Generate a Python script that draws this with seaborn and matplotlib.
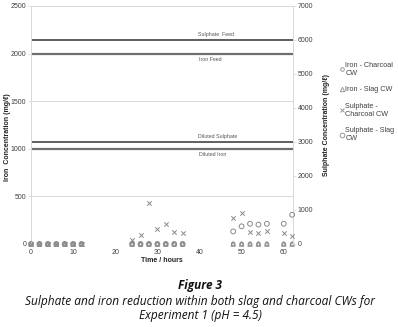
import matplotlib
matplotlib.use("Agg")
import pandas as pd
import matplotlib.pyplot as plt
import seaborn as sns

# sampling times (hours)
hours = [0, 2, 4, 6, 8, 10, 12,
         24, 26, 28, 30, 32, 34, 36,
         48, 50, 52, 54, 56, 60, 62]

# iron concentrations (mg/l), left axis
iron_charcoal = [0, 0, 0, 0, 0, 0, 0,
                 0, 0, 0, 0, 0, 0, 0,
                 0, 0, 0, 0, 0, 0, 0]
iron_slag = [0, 0, 0, 0, 0, 0, 0,
             0, 0, 0, 0, 0, 0, 0,
             0, 0, 0, 0, 0, 0, 0]

# sulphate concentrations (mg/l), right axis
sulphate_charcoal = [0, 0, 0, 0, 0, 0, 0,
                     120, 260, 1200, 440, 600, 340, 325,
                     755, 900, 365, 315, 380, 315, 245]
sulphate_slag = [0, 0, 0, 0, 0, 0, 0,
                 0, 0, 0, 0, 0, 0, 0,
                 370, 520, 595, 570, 595, 595, 860]

# reference levels
iron_refs = {"Iron Feed": 2000, "Diluted Iron": 1000}
sulphate_refs = {"Sulphate  Feed": 6000, "Diluted Sulphate": 3000}

df = pd.DataFrame({
    "hours": hours,
    "iron_charcoal": iron_charcoal,
    "iron_slag": iron_slag,
    "sulphate_charcoal": sulphate_charcoal,
    "sulphate_slag": sulphate_slag,
})

sns.set_theme(style="white")
plt.rcParams["font.family"] = ["Liberation Sans", "DejaVu Sans"]

TXT = "#404040"
GRID = "#d9d9d9"
MK = "#8a8a8a"

fig = plt.figure(figsize=(3.98, 3.27), dpi=100)
ax = fig.add_axes([31 / 398, 1 - 244 / 327, 262 / 398, 238 / 327])
ax2 = ax.twinx()

# reference lines
for name, val in iron_refs.items():
    ax.axhline(val, color="#6e6e6e", lw=1.6, zorder=2)
for name, val in sulphate_refs.items():
    ax2.axhline(val, color="#333333", lw=1.1, zorder=2)

lbl_kw = dict(fontsize=3.8, color="#555555", ha="left")
ax2.text(39.6, 6000 + 90, "Sulphate  Feed", va="bottom", **lbl_kw)
ax.text(40.0, 2000 - 35, "Iron Feed", va="top", **lbl_kw)
ax2.text(39.6, 3000 + 90, "Diluted Sulphate", va="bottom", **lbl_kw)
ax.text(40.0, 1000 - 35, "Diluted Iron", va="top", **lbl_kw)

mk = dict(facecolor="none", edgecolor=MK, linewidth=0.7, legend=False, clip_on=False, zorder=4)
sns.scatterplot(data=df, x="hours", y="iron_charcoal", marker="o", s=7, ax=ax, **mk)
sns.scatterplot(data=df, x="hours", y="iron_slag", marker="^", s=10, ax=ax, **mk)
sns.scatterplot(data=df, x="hours", y="sulphate_charcoal", marker="x", s=10,
                ax=ax2, color=MK, linewidth=0.7, legend=False, clip_on=False, zorder=4)
sns.scatterplot(data=df, x="hours", y="sulphate_slag", marker="o", s=12, ax=ax2, **mk)

ax.set_xlim(0, 62.2)
ax.set_ylim(0, 2500)
ax2.set_ylim(0, 7000)
ax.set_xticks([0, 10, 20, 30, 40, 50, 60])
ax.set_yticks(range(0, 2501, 500))
ax2.set_yticks(range(0, 7001, 1000))
ax.yaxis.grid(True, color=GRID, lw=0.7)
ax.set_axisbelow(True)

for a in (ax, ax2):
    a.tick_params(labelsize=5, colors=TXT, length=2, width=0.6, pad=1.5)
    for s in a.spines.values():
        s.set_visible(False)
    a.spines["left"].set_visible(True)
    a.spines["right"].set_visible(True)
    a.spines["left"].set_color(GRID)
    a.spines["right"].set_color(GRID)
    a.spines["left"].set_linewidth(0.7)
    a.spines["right"].set_linewidth(0.7)
ax.tick_params(axis="y", colors=GRID, labelcolor=TXT)
ax2.tick_params(axis="y", colors=GRID, labelcolor=TXT)
ax.tick_params(axis="x", colors=GRID, labelcolor=TXT)

ax.set_xlabel("Time / hours", fontsize=5, fontweight="bold", color="#222222", labelpad=1)
ax.set_ylabel("Iron  Concentration (mg/ℓ)", fontsize=5, fontweight="bold", color="#222222")
ax2.set_ylabel("Sulphate Concentration (mg/ℓ)", fontsize=5, fontweight="bold", color="#222222")
ax.yaxis.set_label_coords(-0.078, 0.45)
ax2.yaxis.set_label_coords(1.115, 0.5)

# legend
handles = [
    plt.Line2D([], [], ls="none", marker="o", ms=2.6, mfc="none", mec=MK, mew=0.6),
    plt.Line2D([], [], ls="none", marker="^", ms=3.2, mfc="none", mec=MK, mew=0.6),
    plt.Line2D([], [], ls="none", marker="x", ms=3.2, mec=MK, mew=0.6),
    plt.Line2D([], [], ls="none", marker="o", ms=3.4, mfc="none", mec=MK, mew=0.6),
]
labels = ["Iron - Charcoal\nCW", "Iron - Slag CW", "Sulphate -\nCharcoal CW", "Sulphate - Slag\nCW"]
leg = fig.legend(handles, labels, loc="upper left", bbox_to_anchor=(340 / 398, 1 - 62 / 327),
                 frameon=False, fontsize=5.2, handlelength=0.5, handletextpad=0.25,
                 labelspacing=1.3, borderaxespad=0, borderpad=0)
for t in leg.get_texts():
    t.set_color(TXT)

# caption
cap = dict(ha="center", va="center", family=["Open Sans", "DejaVu Sans"], style="italic", color="#111111")
fig.text(200 / 398, 1 - 286 / 327, "Figure 3", fontsize=8.5, fontweight="bold", **cap)
fig.text(200 / 398, 1 - 302 / 327,
         "Sulphate and iron reduction within both slag and charcoal CWs for", fontsize=8.6, **cap)
fig.text(200 / 398, 1 - 316 / 327, "Experiment 1 (pH = 4.5)", fontsize=8.6, **cap)

fig.savefig("out.png", dpi=100)
